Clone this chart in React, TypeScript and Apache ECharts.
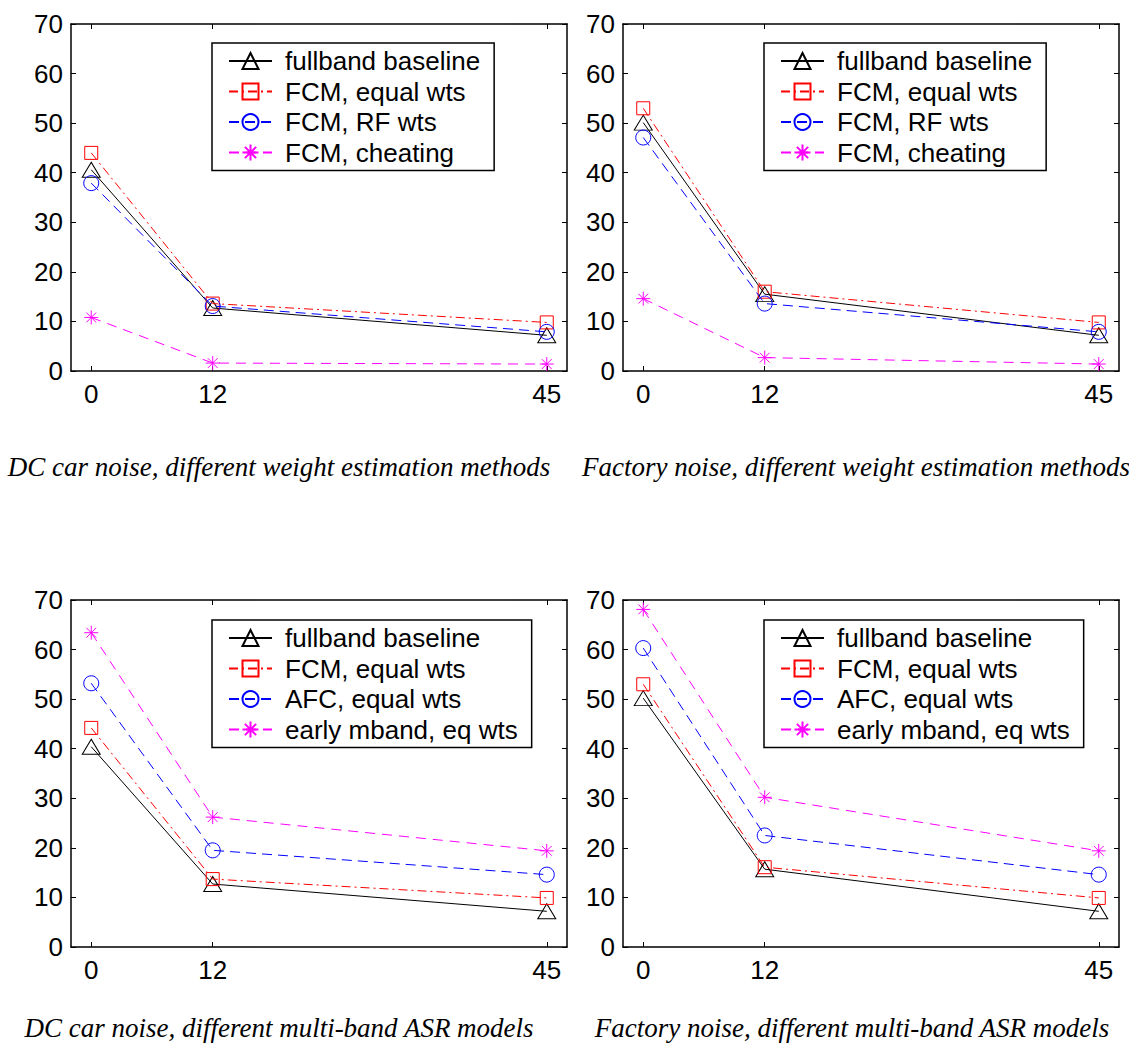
import React, { useEffect, useRef } from "react";
import * as echarts from "echarts";

// ---- Data ----
const xValues = [0, 12, 45];
const xTickValues = [0, 12, 45];

const weightNames = ["fullband baseline", "FCM, equal wts", "FCM, RF wts", "FCM, cheating"];
const modelNames = ["fullband baseline", "FCM, equal wts", "AFC, equal wts", "early mband, eq wts"];

const dcWeightBaseline = [40.6, 12.7, 7.2];
const dcWeightFcmEqual = [44.0, 13.6, 9.8];
const dcWeightFcmRf = [37.9, 13.1, 7.9];
const dcWeightCheating = [10.8, 1.6, 1.4];

const factoryWeightBaseline = [50.1, 15.5, 7.2];
const factoryWeightFcmEqual = [53.0, 16.0, 9.8];
const factoryWeightFcmRf = [47.1, 13.6, 7.9];
const factoryWeightCheating = [14.6, 2.7, 1.4];

const dcModelBaseline = [40.4, 12.7, 7.2];
const dcModelFcmEqual = [44.2, 13.7, 9.9];
const dcModelAfc = [53.2, 19.5, 14.6];
const dcModelEarly = [63.4, 26.2, 19.4];

const factoryModelBaseline = [50.2, 15.7, 7.2];
const factoryModelFcmEqual = [53.0, 16.1, 9.9];
const factoryModelAfc = [60.3, 22.5, 14.6];
const factoryModelEarly = [68.1, 30.2, 19.4];

const captions = [
  "DC car noise, different weight estimation methods",
  "Factory noise, different weight estimation methods",
  "DC car noise, different multi-band ASR models",
  "Factory noise, different multi-band ASR models",
];

// ---- Styles / layout ----
const STAR = "path://M10,0L10,20M0,10L20,10M3,3L17,17M3,17L17,3";
const seriesStyles = [
  { color: "#000000", dash: "solid" as any, symbol: "triangle", size: [18, 15] },
  { color: "#ff0000", dash: [9, 4, 2, 4], symbol: "rect", size: 13 },
  { color: "#0000ff", dash: [10, 6], symbol: "circle", size: 15 },
  { color: "#ff00ff", dash: [10, 7], symbol: STAR, size: 14 },
];

const panels = [
  { left: 71, top: 24, names: weightNames, values: [dcWeightBaseline, dcWeightFcmEqual, dcWeightFcmRf, dcWeightCheating], legendLeft: 212, legendTop: 43, capX: 279, capY: 467 },
  { left: 623, top: 24, names: weightNames, values: [factoryWeightBaseline, factoryWeightFcmEqual, factoryWeightFcmRf, factoryWeightCheating], legendLeft: 764, legendTop: 43, capX: 856, capY: 467 },
  { left: 71, top: 600, names: modelNames, values: [dcModelBaseline, dcModelFcmEqual, dcModelAfc, dcModelEarly], legendLeft: 212, legendTop: 620, capX: 279, capY: 1028 },
  { left: 623, top: 600, names: modelNames, values: [factoryModelBaseline, factoryModelFcmEqual, factoryModelAfc, factoryModelEarly], legendLeft: 764, legendTop: 620, capX: 852, capY: 1028 },
];
const PW = 496;
const PH = 347;

const FONT = "Liberation Sans";
const lineStyle = { color: "#000", width: 1.5 };
const tickStyle = { color: "#000", width: 1 };

function buildOption() {
  const grid: any[] = [];
  const xAxis: any[] = [];
  const yAxis: any[] = [];
  const series: any[] = [];
  const legend: any[] = [];
  const graphic: any[] = [];

  panels.forEach((p, g) => {
    grid.push({ left: p.left, top: p.top, width: PW, height: PH, containLabel: false });
    ["bottom", "top"].forEach((pos, k) => {
      xAxis.push({
        type: "value",
        gridIndex: g,
        position: pos,
        min: -2,
        max: 47,
        axisLine: { show: true, onZero: false, lineStyle },
        axisTick: { show: true, inside: true, length: 5, customValues: xTickValues, lineStyle: tickStyle },
        axisLabel: k === 0
          ? { show: true, customValues: xTickValues, margin: 10, fontSize: 26, fontFamily: FONT, color: "#000" }
          : { show: false },
        splitLine: { show: false },
      });
    });
    ["left", "right"].forEach((pos, k) => {
      yAxis.push({
        type: "value",
        gridIndex: g,
        position: pos,
        min: 0,
        max: 70,
        interval: 10,
        axisLine: { show: true, onZero: false, lineStyle },
        axisTick: { show: true, inside: true, length: 5, lineStyle: tickStyle },
        axisLabel: k === 0
          ? { show: true, margin: 8, fontSize: 26, fontFamily: FONT, color: "#000" }
          : { show: false },
        splitLine: { show: false },
      });
    });
    p.names.forEach((name, i) => {
      const st = seriesStyles[i];
      series.push({
        type: "line",
        name,
        xAxisIndex: 2 * g,
        yAxisIndex: 2 * g,
        data: xValues.map((x, j) => [x, p.values[i][j]]),
        symbol: st.symbol,
        symbolSize: st.size,
        showSymbol: true,
        itemStyle: { color: "transparent", borderColor: st.color, borderWidth: 1 },
        lineStyle: { color: st.color, width: 1, type: st.dash },
        emphasis: { disabled: true },
        z: 2 + i,
      });
    });
    legend.push({
      data: p.names,
      orient: "vertical",
      left: p.legendLeft,
      top: p.legendTop,
      itemWidth: 43,
      itemHeight: 20,
      itemGap: 4.5,
      padding: [5, 14, 5, 16],
      borderColor: "#000",
      borderWidth: 1.5,
      backgroundColor: "#fff",
      selectedMode: false,
      textStyle: { fontSize: 26, fontFamily: FONT, color: "#000", padding: [0, 0, 0, 8] },
    });
    graphic.push({
      type: "text",
      x: p.capX,
      y: p.capY,
      style: {
        text: captions[g],
        font: 'italic 27px "Liberation Serif"',
        fill: "#000",
        textAlign: "center",
        textVerticalAlign: "middle",
        align: "center",
        verticalAlign: "middle",
      },
    });
  });

  return { animation: false, backgroundColor: "#fff", grid, xAxis, yAxis, series, legend, graphic };
}

export default function App() {
  const ref = useRef<HTMLDivElement>(null);
  useEffect(() => {
    document.body.style.margin = "0";
    if (!ref.current) return;
    const chart = echarts.init(ref.current, undefined, { renderer: "svg" });
    chart.setOption(buildOption());
    return () => chart.dispose();
  }, []);
  return <div ref={ref} style={{ width: 1129, height: 1053 }} />;
}
